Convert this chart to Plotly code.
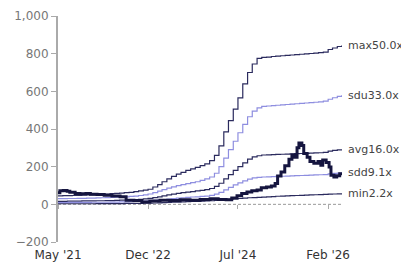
import pandas as pd
import plotly.graph_objects as go

# Monthly band dates (May 2021 .. May 2026)
band_dates = pd.date_range("2021-05-01", "2026-05-01", freq="MS")

max_vals = [45, 46, 46, 47, 48, 49, 50, 50, 51, 53,
            55, 57, 58, 60, 62, 64, 67, 71, 75, 80,
            92, 105, 120, 135, 148, 160, 170, 180, 188, 196,
            205, 215, 232, 260, 310, 385, 445, 505, 565, 640,
            700, 745, 775, 780, 782, 785, 787, 789, 791, 793,
            795, 797, 799, 801, 803, 805, 808, 822, 830, 838, 845]
sdu_vals = [30, 30, 31, 31, 32, 32, 33, 33, 34, 35,
            36, 37, 38, 39, 40, 42, 44, 47, 50, 55,
            62, 70, 78, 86, 93, 99, 105, 110, 115, 120,
            127, 135, 145, 165, 200, 245, 290, 335, 380, 425,
            465, 495, 512, 520, 522, 524, 526, 528, 530, 532,
            534, 536, 538, 540, 542, 544, 548, 558, 566, 573, 580]
avg_vals = [16, 16, 17, 17, 17, 18, 18, 18, 19, 19,
            20, 20, 21, 22, 23, 24, 25, 27, 29, 32,
            36, 40, 45, 50, 54, 58, 62, 65, 68, 71,
            74, 78, 84, 95, 112, 135, 158, 180, 200, 220,
            240, 252, 258, 262, 263, 264, 265, 266, 267, 268,
            269, 270, 271, 272, 273, 274, 276, 282, 286, 289, 292]
sdd_vals = [9, 9, 10, 10, 10, 10, 10, 11, 11, 11,
            11, 12, 12, 13, 13, 14, 15, 16, 17, 19,
            21, 23, 25, 28, 30, 33, 35, 37, 39, 40,
            42, 44, 48, 54, 64, 77, 90, 103, 114, 125,
            134, 140, 143, 145, 146, 147, 148, 149, 150, 151,
            152, 153, 154, 155, 156, 157, 158, 162, 164, 166, 168]
min_vals = [3, 3, 3, 3, 3, 3, 3, 3, 4, 4,
            4, 4, 4, 4, 5, 5, 5, 5, 6, 6,
            7, 8, 9, 10, 11, 12, 13, 14, 15, 16,
            17, 18, 19, 21, 23, 25, 27, 29, 31, 33,
            35, 36, 37, 38, 40, 41, 43, 44, 45, 46,
            47, 48, 49, 50, 51, 52, 53, 54, 55, 56, 58]

price_dates = ["2021-05-01", "2021-05-13", "2021-06-04", "2021-06-28", "2021-07-16",
               "2021-08-19", "2021-09-19", "2021-10-28", "2021-11-25", "2022-01-07",
               "2022-02-22", "2022-04-13", "2022-06-04", "2022-07-13", "2022-09-01",
               "2022-10-22", "2022-12-13", "2023-02-16", "2023-04-19", "2023-06-25",
               "2023-08-28", "2023-11-01", "2024-01-04", "2024-02-25", "2024-04-16",
               "2024-05-22", "2024-06-25", "2024-07-25", "2024-08-28", "2024-09-28",
               "2024-11-01", "2024-11-28", "2025-01-01", "2025-02-01", "2025-02-25",
               "2025-03-13", "2025-04-04", "2025-04-28", "2025-05-25", "2025-06-13",
               "2025-07-01", "2025-07-16", "2025-07-28", "2025-08-16", "2025-08-28",
               "2025-09-19", "2025-10-07", "2025-11-01", "2025-11-28", "2025-12-16",
               "2025-12-28", "2026-01-19", "2026-02-07", "2026-02-19", "2026-03-10",
               "2026-03-28", "2026-04-16", "2026-05-01"]
price_vals = [62, 72, 74, 70, 64,
              58, 56, 58, 54, 52,
              48, 44, 40, 22, 20,
              12, 18, 22, 20, 24,
              22, 26, 30, 26, 24,
              34, 45, 58, 66, 72,
              76, 88, 92, 98, 110,
              150, 172, 205, 240, 262,
              250, 300, 325, 312, 270,
              250, 228, 218, 228, 208,
              235, 222, 198, 155, 145,
              152, 162, 160]

band_labels = ["max50.0x", "sdu33.0x", "avg16.0x", "sdd9.1x", "min2.2x"]

tick_vals = ["2021-05-01", "2022-12-01", "2024-07-01", "2026-02-01"]
tick_text = ["May '21", "Dec '22", "Jul '24", "Feb '26"]
y_ticks = [-200, 0, 200, 400, 600, 800, 1000]

DARK = "#2b2b5e"
LIGHT = "#8e8ee0"
THICK = "#15153f"

fig = go.Figure()
series = [(max_vals, DARK), (sdu_vals, LIGHT), (avg_vals, DARK), (sdd_vals, LIGHT), (min_vals, DARK)]
for vals, col in series:
    fig.add_trace(go.Scatter(x=band_dates, y=vals, mode="lines", line=dict(color=col, width=1.2, shape="hv"),
                             hoverinfo="skip", showlegend=False))
fig.add_trace(go.Scatter(x=price_dates, y=price_vals, mode="lines",
                         line=dict(color=THICK, width=3, shape="hv"), showlegend=False))
# invisible trace to host tick axis at zero line
fig.add_trace(go.Scatter(x=[band_dates[0], band_dates[-1]], y=[None, None], xaxis="x2",
                         mode="lines", showlegend=False, hoverinfo="skip"))

for (vals, col), lab in zip(series, band_labels):
    fig.add_annotation(x=1, xref="paper", y=vals[-1], yref="y", text=lab, showarrow=False,
                       xanchor="left", xshift=4, font=dict(size=11, color="#444", family="DejaVu Sans"))

fig.add_shape(type="line", xref="paper", x0=0, x1=1, yref="y", y0=0, y1=0,
              line=dict(color="#999", width=1, dash="3px,2px"), layer="below")

xr = [band_dates[0], band_dates[-1]]
fig.update_layout(
    width=401, height=254,
    margin=dict(l=50, r=67, t=8, b=20),
    plot_bgcolor="white", paper_bgcolor="white",
    font=dict(family="DejaVu Sans", size=12, color="#777"),
    xaxis=dict(range=xr, tickvals=tick_vals, ticktext=tick_text, showgrid=False, zeroline=False,
               showline=False, ticks="outside", ticklen=2, tickcolor="rgba(0,0,0,0)", automargin=False,
               tickfont=dict(color="#333", size=12)),
    xaxis2=dict(range=xr, overlaying="x", anchor="free", position=200 / 1200, side="bottom",
                tickvals=tick_vals, showticklabels=False, ticks="outside", ticklen=4, tickcolor="#aaa",
                showgrid=False, zeroline=False, showline=False, automargin=False),
    yaxis=dict(range=[-200, 1000], tickvals=y_ticks, tickformat=",", showgrid=False, zeroline=False,
               showline=True, linecolor="#aaa", linewidth=2, ticks="outside", ticklen=5, tickcolor="#aaa",
               automargin=False, tickfont=dict(color="#777", size=12)),
)
fig.write_html("out.html")
